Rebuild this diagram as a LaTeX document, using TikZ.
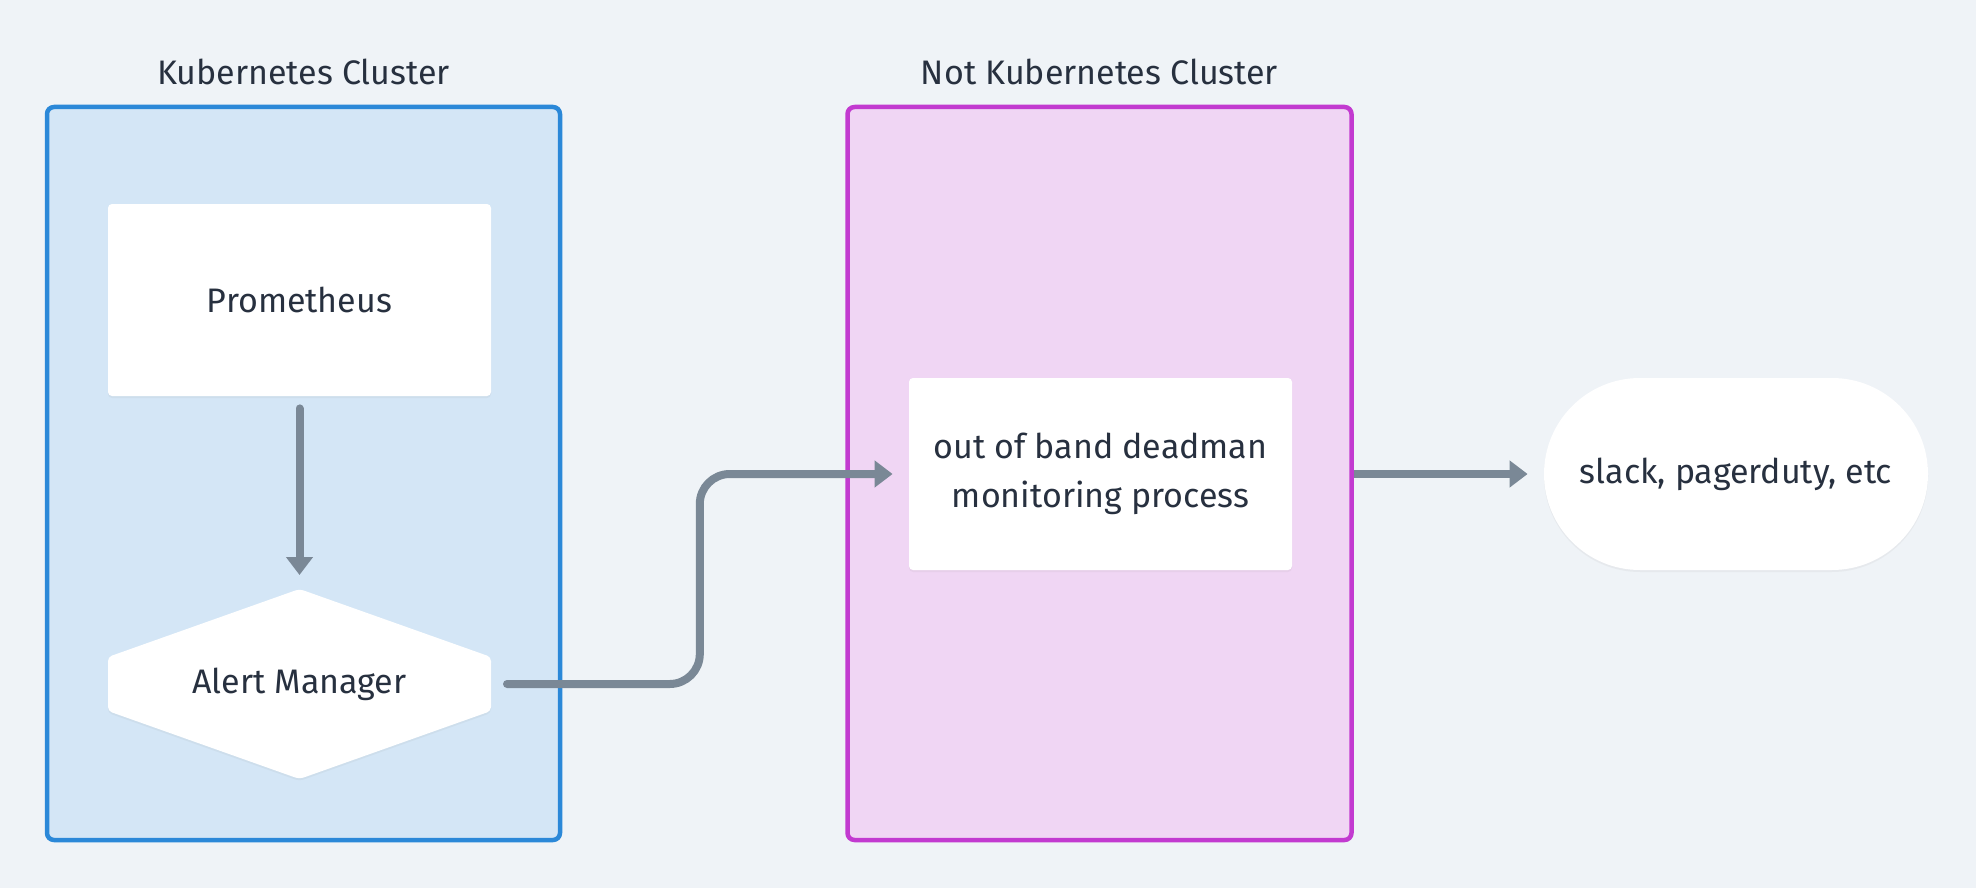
\documentclass[tikz,border=0pt]{standalone}
\usepackage{fontspec}
\setmainfont{Fira Sans}
\usetikzlibrary{arrows.meta,positioning,calc,shadows}
\definecolor{bgcol}{HTML}{EFF3F7}
\definecolor{inkcol}{HTML}{27303F}
\definecolor{k8sfill}{HTML}{D4E6F6}
\definecolor{k8sline}{HTML}{2B88D8}
\definecolor{notfill}{HTML}{F0D6F4}
\definecolor{notline}{HTML}{C23AD0}
\definecolor{flowcol}{HTML}{7A8896}

\begin{document}
\begin{tikzpicture}[x=0.5pt, y=-0.5pt, line join=round,
  every node/.style={font=\fontsize{17}{24.5}\selectfont, text=inkcol},
  cluster/.style={rounded corners=3.5pt, line width=2.25pt, minimum height=366.5pt, inner sep=0pt},
  title/.style={inner sep=0pt, label distance=9.5pt},
  card/.style={fill=white, rounded corners=2pt, minimum width=191.5pt, minimum height=96pt, align=center,
    drop shadow={shadow xshift=0pt, shadow yshift=-1pt, opacity=0.08}},
  flow/.style={draw=flowcol, line width=4pt, line cap=round, -{Triangle[width=13pt,length=9pt]}}]
\useasboundingbox (0,0) rectangle (1976,888);
\fill[bgcol] (0,0) rectangle (1976,888);

% the two clusters
\node[cluster, draw=k8sline, fill=k8sfill, minimum width=256.5pt,
  label={[title]above:Kubernetes Cluster}] (k8s) at (303.5,473.5) {};
\node[cluster, draw=notline, fill=notfill, minimum width=252pt,
  label={[title]above:Not Kubernetes Cluster}] (notk) at (1099.5,473.5) {};

% inside the cluster
\node[card] (prom) at (299.5,300) {Prometheus};
\node[minimum width=191.5pt, minimum height=95pt, inner sep=0pt, outer sep=0pt] (alertbox) at (299.5,684) {};
\fill[white, rounded corners=2pt, drop shadow={shadow xshift=0pt, shadow yshift=-1pt, opacity=0.08}]
  (alertbox.north) -- ($(alertbox.west)+(0,-27)$) -- ($(alertbox.west)+(0,27)$) -- (alertbox.south)
  -- ($(alertbox.east)+(0,27)$) -- ($(alertbox.east)+(0,-27)$) -- cycle;
\node (alert) at (alertbox) {Alert Manager};

% outside
\node[card] (deadman) at (1100.5,474) {out of band deadman\\monitoring process};
\node[card, rounded corners=48pt, minimum width=192pt] (slack) at (1736,474) {slack, pagerduty, etc};

% connectors
\draw[flow, shorten <=6pt, shorten >=7pt] (prom) -- (alertbox);
\draw[flow, rounded corners=15pt, shorten <=8pt, shorten >=8pt]
  (alertbox.east) -| ($(alertbox.east)!0.5!(deadman.west)$) |- (deadman.west);
\draw[flow, line cap=butt, shorten >=8pt] (notk.east |- deadman.east) -- (slack.west);
\end{tikzpicture}
\end{document}
